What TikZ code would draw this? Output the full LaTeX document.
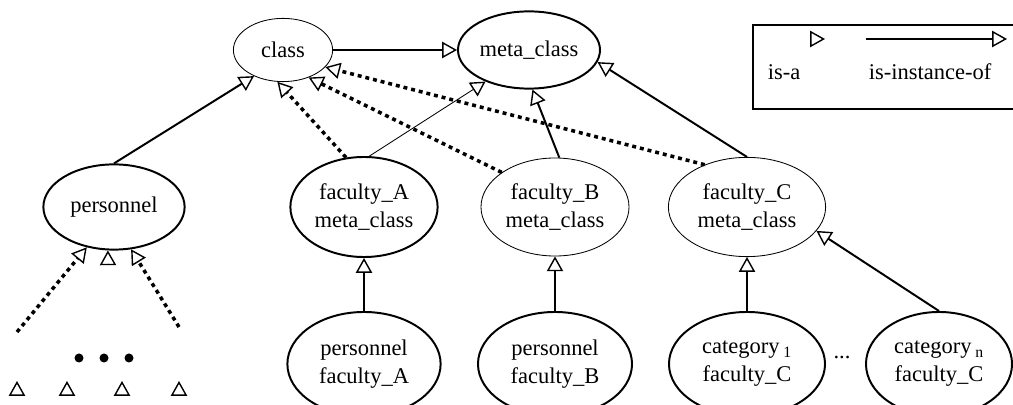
\documentclass[tikz,border=0pt]{standalone}
\usepackage{fontspec}
\setmainfont{Liberation Serif}
\usetikzlibrary{shapes.geometric,arrows.meta}
\tikzstyle{cls} = [ellipse, draw=black, inner sep=0pt, align=center, font=\fontsize{16}{20}\selectfont]
\tikzstyle{thk} = [line width=1.4pt]
\tikzstyle{thn} = [line width=0.6pt]
\tikzstyle{tip} = [-{Triangle[open, length=10.5pt, width=11.5pt, line width=1pt]}]
\tikzstyle{dotlink} = [tip, line width=2.5pt, dash pattern=on 2.8pt off 2.8pt]
\tikzstyle{lbl} = [inner sep=0pt, font=\fontsize{16}{20}\selectfont]

\begin{document}
\begin{tikzpicture}[x=0.025cm, y=-0.025cm]%
			\useasboundingbox (0,0) rectangle (1013,405);%
			% classes
			\node [cls, thn, minimum width=2.48cm, minimum height=1.58cm] (class) at (283,50) {class};
			\node [cls, thk, minimum width=3.55cm, minimum height=1.93cm] (meta) at (529,50) {meta\_class};
			\node [cls, thk, minimum width=3.53cm, minimum height=2.13cm] (pers) at (114,207) {personnel};
			\node [cls, thk, minimum width=3.68cm, minimum height=2.5cm] (facA) at (364,207) {faculty\_A\\meta\_class};
			\node [cls, thn, minimum width=3.7cm, minimum height=2.45cm] (facB) at (555,207) {faculty\_B\\meta\_class};
			\node [cls, thn, minimum width=3.93cm, minimum height=2.48cm] (facC) at (747,207) {faculty\_C\\meta\_class};
			\node [cls, thk, minimum width=3.83cm, minimum height=2.6cm] (persA) at (364,364) {personnel\\ faculty\_A};
			\node [cls, thk, minimum width=3.85cm, minimum height=2.6cm] (persB) at (555,364) {personnel\\ faculty\_B};
			\node [cls, thk, minimum width=3.9cm, minimum height=2.6cm] (cat1) at (747,364) {category\,\textsubscript{1}\\ faculty\_C};
			\node [cls, thk, minimum width=3.65cm, minimum height=2.6cm] (catn) at (939,364) {category\,\textsubscript{n}\\ faculty\_C};
			\node [lbl] (etc) at (842,357) {...};
			% links
			\draw [tip, thk] (class.east) -- (meta.west);
			\draw [tip, thk] (pers.north) -- (class.222);
			\draw [dotlink] (facA.110) -- (class.260);
			\draw [tip, thn] (facA.84) -- (meta.216);
			\draw [dotlink] (facB.147) -- (class.313);
			\draw [tip, thk] (facB.85) -- (meta.275);
			\draw [dotlink] (facC.135) -- (class.338);
			\draw [tip, thk] (facC.north) -- (meta.350);
			\draw [tip, thk] (persA.north) -- (facA.south);
			\draw [tip, thk] (persB.north) -- (facB.south);
			\draw [tip, thk] (cat1.north) -- (facC.south);
			\draw [tip, thk] (catn.north) -- (facC.341);
			% subclasses of personnel
			\coordinate (subL) at (17,332);
			\coordinate (subM) at (108,264);
			\coordinate (subR) at (179,327);
			\draw [dotlink] (subL) -- (pers.236);
			\draw [tip, thk] (subM) -- (pers.262);
			\draw [dotlink] (subR) -- (pers.292);
			\foreach \x in {79,104,129} \fill (\x,358) circle (4.5);
			\foreach \x in {17,67,122,179} \draw [tip, thk] (\x,396) -- (\x,381);
			% legend
			\draw [line width=1.2pt] (753,25) rectangle (1030,109);
			\coordinate (isaA) at (810,39);
			\coordinate (isaB) at (825,39);
			\coordinate (instA) at (866,39);
			\coordinate (instB) at (1007,39);
			\draw [tip, thk] (isaA) -- (isaB);
			\draw [tip, line width=1pt] (instA) -- (instB);
			\node [lbl] (isa) at (784,72) {is-a};
			\node [lbl] (inst) at (930,72) {is-instance-of};
		\end{tikzpicture}
\end{document}
